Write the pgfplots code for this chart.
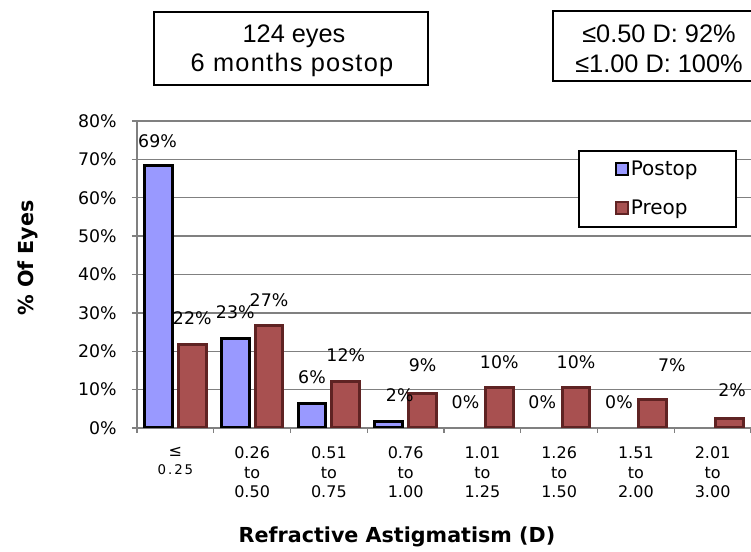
\documentclass[border=0pt]{standalone}
\usepackage{fontspec}
\setmainfont{DejaVu Sans}
\newfontfamily\arialfont{Liberation Sans}
\newfontfamily\arialwide[LetterSpace=5]{Liberation Sans}
\newfontfamily\spacedfont[LetterSpace=15]{DejaVu Sans}
\usepackage{pgfplots}
\pgfplotsset{compat=1.18}
\usepackage{pgfplotstable}

\definecolor{postop}{RGB}{153,153,255}
\definecolor{preop}{RGB}{168,80,80}
\definecolor{preopedge}{RGB}{95,35,35}
\definecolor{gridgray}{RGB}{128,128,128}

% x = category position, y = % of eyes, lbl = printed label, dx/dy = label offset (pt)
\pgfplotstableread{
x     y    lbl dx    dy
-0.22 68.5 69  -0.75 18
0.78  23.4 23  0     19.5
1.78  6.5  6   0     19.5
2.78  1.6  2   8.25  20
}\postopdata

\pgfplotstableread{
x     y    lbl dx    dy
3.78  0    0   0     19
4.78  0    0   0     19
5.78  0    0   0     19
}\postopzero

\pgfplotstableread{
x     y    lbl dx    dy
0.22  21.8 22  0     19.5
1.22  26.6 27  0     19
2.22  12.1 12  0     20
3.22  8.9  9   0     21.5
4.22  10.5 10  0     19.3
5.22  10.5 10  0     19.3
6.22  7.3  7   14.25 26
7.22  2.4  2   2     21.5
}\preopdata

\begin{document}
\begin{tikzpicture}
\path[use as bounding box] (0pt,0pt) rectangle (563.25pt,-414pt);

\begin{axis}[
  at={(102.75pt,-321pt)}, anchor=south west,
  scale only axis, width=460.5pt, height=230.25pt,
  xmin=-0.5, xmax=7.5, ymin=0, ymax=80,
  axis x line*=bottom, axis y line*=left,
  axis line style={gridgray, line width=1pt},
  ytick={0,10,...,80},
  yticklabels={0\%,10\%,20\%,30\%,40\%,50\%,60\%,70\%,80\%},
  ymajorgrids, grid style={gridgray, line width=1pt},
  tick align=outside, major tick length=3.75pt, minor tick length=3.75pt,
  tick style={gridgray, line width=1pt},
  xtick={0,...,7},
  major x tick style={draw=none},
  minor xtick={-0.5,0.5,...,7.5},
  yticklabel style={font=\fontsize{13}{15}\selectfont, xshift=-8pt},
  xticklabel style={font=\fontsize{12}{14.6}\selectfont, align=center, yshift=-7pt},
  xticklabels={{≤\\[-1pt]{\spacedfont\fontsize{10}{11}\selectfont 0.25}},
    {0.26\\to\\0.50},{0.51\\to\\0.75},{0.76\\to\\1.00},{1.01\\to\\1.25},
    {1.26\\to\\1.50},{1.51\\to\\2.00},{2.01\\to\\3.00}},
  legend style={at={(0.718,0.9055)}, anchor=north west, draw=black,
    line width=1.5pt, fill=white, font=\fontsize{15}{17}\selectfont,
    inner xsep=27pt, inner ysep=5.5pt, row sep=12.8pt,
    nodes={inner xsep=1.5pt}},
  legend cell align=left,
  every node near coord/.append style={font=\fontsize{13}{15}\selectfont, text=black, anchor=center},
]
\addplot[ybar, bar width=0.36, bar shift=0pt, fill=postop, draw=black, line width=2.25pt,
  point meta=explicit symbolic, nodes near coords={\pgfplotspointmeta\%},
  visualization depends on={\thisrow{dx} \as \dx},
  visualization depends on={\thisrow{dy} \as \dy},
  nodes near coords style={xshift=\dx pt, yshift=\dy pt},
  legend image code/.code={\draw[fill=postop, draw=black, line width=1.5pt] (0pt,-4.5pt) rectangle (9pt,4.5pt);}]
  table[x=x, y=y, meta=lbl] {\postopdata};
\addlegendentry{Postop}
\addplot[ybar, bar width=0.36, bar shift=0pt, fill=preop, draw=preopedge, line width=2.25pt,
  point meta=explicit symbolic, nodes near coords={\pgfplotspointmeta\%},
  visualization depends on={\thisrow{dx} \as \dx},
  visualization depends on={\thisrow{dy} \as \dy},
  nodes near coords style={xshift=\dx pt, yshift=\dy pt},
  legend image code/.code={\draw[fill=preop, draw=preopedge, line width=1.5pt] (0pt,-4.5pt) rectangle (9pt,4.5pt);}]
  table[x=x, y=y, meta=lbl] {\preopdata};
\addlegendentry{Preop}
\addplot[ybar, bar width=0.36, bar shift=0pt, draw=none, fill=none, forget plot,
  point meta=explicit symbolic, nodes near coords={\pgfplotspointmeta\%},
  visualization depends on={\thisrow{dx} \as \dx},
  visualization depends on={\thisrow{dy} \as \dy},
  nodes near coords style={xshift=\dx pt, yshift=\dy pt}]
  table[x=x, y=y, meta=lbl] {\postopzero};
\end{axis}

\begin{scope}[x=0.75pt, y=-0.75pt]
  \clip (0,0) rectangle (751,552);
  \draw[line width=1.5pt] (154,12) rectangle (428,85);
  \node[anchor=base, font=\arialfont\fontsize{19}{22}\selectfont] at (294,42.7) {124 eyes};
  \node[anchor=base, font=\arialwide\fontsize{19}{22}\selectfont] at (292,71.5) {6 months postop};
  \draw[line width=1.5pt] (553,11) rectangle (770,81);
  \node[anchor=base, font=\arialfont\fontsize{19}{22}\selectfont] at (659,42.7) {≤0.50 D: 92\%};
  \node[anchor=base, font=\arialfont\fontsize{19}{22}\selectfont] at (659,72.7) {≤1.00 D: 100\%};
  \node[rotate=90, font=\bfseries\fontsize{15.5}{18}\selectfont] at (28,258) {\% Of Eyes};
  \node[font=\bfseries\fontsize{15.5}{18}\selectfont] at (397,537) {Refractive Astigmatism (D)};
\end{scope}
\end{tikzpicture}
\end{document}
